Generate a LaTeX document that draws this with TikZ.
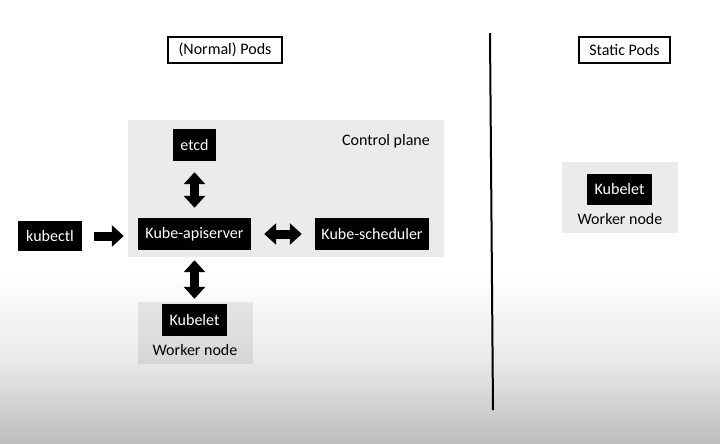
\documentclass[tikz,border=0pt]{standalone}
\usepackage{fontspec}
\setmainfont{Carlito}
\usetikzlibrary{arrows.meta}
\begin{document}
\begin{tikzpicture}[x=1pt,y=-1pt,
  blk/.style={fill=black,text=white,inner sep=0pt,font=\fontsize{16}{18}\selectfont},
  title/.style={draw=black,line width=1.6pt,fill=white,inner sep=0pt,font=\fontsize{16}{18}\selectfont},
  grp/.style={fill=black,fill opacity=0.08,draw=none},
  lbl/.style={inner sep=0pt,font=\fontsize{16}{18}\selectfont},
  fat/.style={line width=9pt,{Triangle[length=12pt,width=21pt]}-{Triangle[length=12pt,width=21pt]}},
  fatr/.style={line width=9pt,-{Triangle[length=12pt,width=21pt]}}]
\useasboundingbox (0,0) rectangle (720,444);
\fill[white] (0,0) rectangle (720,272);
\shade[top color=white,bottom color=black!26,middle color=black!8] (0,272) rectangle (720,444);
% groups
\fill[grp] (128,120) rectangle (444,257);
\fill[grp] (138,302) rectangle (253,364);
\fill[grp] (562,162) rectangle (678,233);
% titles
\node[title,minimum width=114pt,minimum height=26pt] (np) at (225,50) {(Normal) Pods};
\node[title,minimum width=91pt,minimum height=26pt] (sp) at (624.5,50) {Static Pods};
% divider
\coordinate (dtop) at (490,33);
\coordinate (dbot) at (493,410);
\draw[line width=2pt] (dtop) -- (dbot);
% nodes
\node[lbl] (cp) at (386,141) {Control plane};
\node[blk,minimum width=43pt,minimum height=32pt] (etcd) at (194.5,145) {etcd};
\node[blk,minimum width=64pt,minimum height=30pt] (kubectl) at (50,236) {kubectl};
\node[blk,minimum width=113pt,minimum height=32pt] (api) at (194.5,234) {Kube-apiserver};
\node[blk,minimum width=114pt,minimum height=32pt] (sched) at (372,234) {Kube-scheduler};
\node[blk,minimum width=65pt,minimum height=32pt] (kl1) at (194.5,320) {Kubelet};
\node[lbl] (wn1) at (195,350) {Worker node};
\node[blk,minimum width=65pt,minimum height=31pt] (kl2) at (619.5,189.5) {Kubelet};
\node[lbl] (wn2) at (620,219) {Worker node};
% arrows
\draw[fat,shorten <=11pt,shorten >=10pt] (etcd.south) -- (api.north);
\draw[fat,shorten <=10pt,shorten >=5pt] (api.south) -- (kl1.north);
\draw[fat,shorten <=13pt,shorten >=13pt] (api.east) -- (sched.west);
\draw[fatr,shorten <=12pt,shorten >=14pt] (kubectl.east) -- (kubectl.east -| api.west);
\end{tikzpicture}
\end{document}
